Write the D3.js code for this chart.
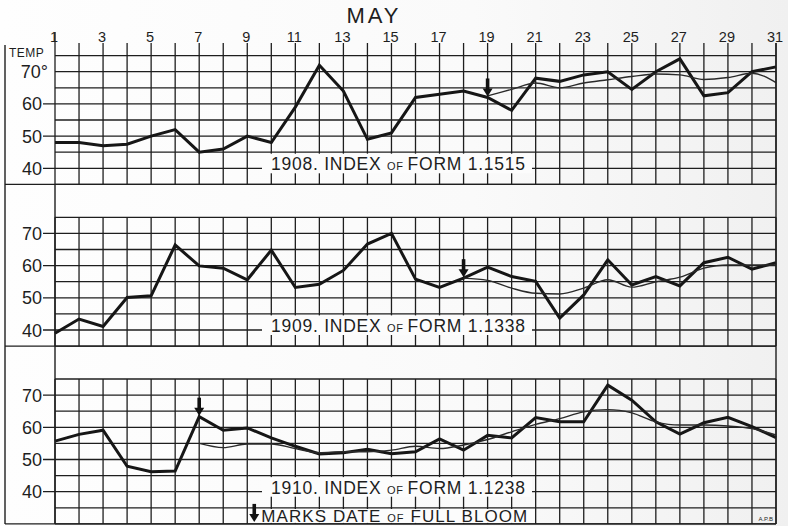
<!DOCTYPE html>
<html>
<head>
<meta charset="utf-8">
<script src="https://cdn.jsdelivr.net/npm/d3@7"></script>
<style>
  html, body { margin: 0; padding: 0; background: #fcfcfc; }
  svg text { font-family: "Liberation Sans", "DejaVu Sans", sans-serif; fill: #1e1e1e; }
</style>
</head>
<body>
<div id="chart"></div>
<script>
"use strict";

// ---- data ----
var dayTicks = [1, 3, 5, 7, 9, 11, 13, 15, 17, 19, 21, 23, 25, 27, 29, 31];
var tempTicks = [70, 60, 50, 40];
var years = ["1908", "1909", "1910"];
var formIndex = ["1.1515", "1.1338", "1.1238"];
var bloomDay = [19, 18, 7];

// daily mean temperature, May 1 - 31
var temps1908 = [48, 48, 47, 47.5, 50, 52, 45, 46, 50, 48, 59, 72, 64, 49, 51, 62,
  63, 64, 62, 58, 68, 67, 69, 70, 64.5, 70, 74, 62.5, 63.5, 70, 71.5];
var temps1909 = [39, 43.4, 41.1, 50.1, 50.6, 66.4, 59.9, 59.2, 55.6, 64.8, 53.2, 54.2,
  58.5, 66.7, 70, 55.8, 53.2, 56.1, 59.5, 56.6, 55.1, 43.7, 50.9, 61.8, 54, 56.6,
  53.7, 60.9, 62.6, 58.9, 60.9];
var temps1910 = [55.7, 57.8, 59.1, 47.9, 46.2, 46.4, 63.3, 59.1, 59.8, 56.7, 54.1,
  51.7, 52.1, 53.2, 51.8, 52.4, 56.4, 52.9, 57.5, 56.7, 63, 61.7, 61.7, 73.1, 68.4,
  61.7, 57.9, 61.4, 63.1, 60.2, 56.8];

// smoothed curve, from the bloom date to May 31
var smooth1908 = [62.5, 64.5, 66.5, 65, 66.5, 67.5, 68.5, 69.3, 69, 67.6, 68.2, 69.5, 66.6];
var smooth1909 = [56.1, 55.4, 53, 51.4, 51.2, 53, 55.6, 53.3, 55, 56.4, 59.2, 60.2, 60.2, 60.2];
var smooth1910 = [55, 53.7, 54.8, 54.8, 53.4, 52.1, 52.4, 52.4, 52.9, 54.1, 53.4, 54.5,
  56.2, 58.6, 60.9, 62.7, 64.8, 65.5, 64.5, 61.7, 60.7, 60.7, 60.4, 59.6, 57.6];

var temps = [temps1908, temps1909, temps1910];
var smooth = [smooth1908, smooth1909, smooth1910];

// ---- layout ----
var w = 788, h = 526;
var left = 55, right = 776, frameLeft = 5;
var y70 = [71.7, 233.4, 395.1];     // pixel row of the 70 degree line in each panel
var degPx = 3.22;
var ink = "#1e1e1e";

var svg = d3.select("#chart").append("svg").attr("width", w).attr("height", h);

var grad = svg.append("defs").append("linearGradient").attr("id", "paper");
grad.append("stop").attr("offset", "0%").attr("stop-color", "#fefefe");
grad.append("stop").attr("offset", "60%").attr("stop-color", "#fafafa");
grad.append("stop").attr("offset", "100%").attr("stop-color", "#f0f0f0");
svg.append("rect").attr("width", w).attr("height", h).attr("fill", "url(#paper)");

var x = d3.scaleLinear().domain([1, 31]).range([left, right]);
var days = d3.range(1, 32);

/**
 * Small down arrow, tip at (ax, tip).
 */
var drawArrow = function (g, ax, tip) {
  g.append("line")
    .attr("x1", ax).attr("x2", ax)
    .attr("y1", tip - 18).attr("y2", tip - 7)
    .attr("stroke", "#111").attr("stroke-width", 3.6);
  g.append("path")
    .attr("d", "M" + (ax - 5) + "," + (tip - 8) + "L" + (ax + 5) + "," + (tip - 8) + "L" + ax + "," + tip + "Z")
    .attr("fill", "#111");
};

/**
 * Draw one year's panel.
 * @param p - panel index (0, 1, 2)
 */
var drawPanel = function (p) {
  var y = d3.scaleLinear().domain([40, 70]).range([y70[p] + 30 * degPx, y70[p]]);
  var low = p === 2 ? 30 : 35;
  var g = svg.append("g").attr("class", "panel" + p);
  var grid = g.append("g").attr("stroke", ink).attr("stroke-width", 1.3);

  // horizontal rules every 5 degrees
  grid.selectAll("line.h")
    .data(d3.range(low, 80, 5))
    .enter().append("line")
    .attr("class", "h")
    .attr("x1", function (d) { return d % 10 === 0 && d >= 40 && d <= 70 && !(p === 0 && d === 70) ? 43 : left; })
    .attr("x2", right)
    .attr("y1", function (d) { return y(d); })
    .attr("y2", function (d) { return y(d); });

  // vertical rules for every day
  grid.selectAll("line.v")
    .data(days)
    .enter().append("line")
    .attr("class", "v")
    .attr("x1", function (d) { return x(d); })
    .attr("x2", function (d) { return x(d); })
    .attr("y1", function (d) { return p === 0 ? (d === 1 ? 32 : 43) : y(75); })
    .attr("y2", y(low));

  // temperature labels
  g.selectAll("text.t")
    .data(tempTicks)
    .enter().append("text")
    .attr("class", "t")
    .attr("x", 42)
    .attr("y", function (d) { return y(d) + 6.5; })
    .attr("text-anchor", "end")
    .attr("font-size", 18)
    .text(function (d) { return d; });
  if (p === 0) {
    g.select("text.t").text("70°").attr("x", 48);
  }

  // "index of form" box
  var by = y(45) + 1.5;
  g.append("rect")
    .attr("x", 262).attr("y", by)
    .attr("width", 270).attr("height", y(40) + 5 - by)
    .attr("fill", "#fcfcfc");
  var lab = g.append("text")
    .attr("x", 271).attr("y", y(40) + 2)
    .attr("font-size", 17.5)
    .attr("textLength", 254)
    .attr("lengthAdjust", "spacing");
  lab.append("tspan").text(years[p] + ". INDEX ");
  lab.append("tspan").attr("font-size", 11).text("OF ");
  lab.append("tspan").text("FORM  " + formIndex[p]);

  // daily temperatures
  var line = d3.line()
    .x(function (d, i) { return x(i + 1); })
    .y(function (d) { return y(d); });
  g.append("path")
    .attr("d", line(temps[p]))
    .attr("fill", "none")
    .attr("stroke", "#161616")
    .attr("stroke-width", 3)
    .attr("stroke-linejoin", "miter");

  // smoothed curve from full bloom on
  var smoothLine = d3.line()
    .curve(d3.curveMonotoneX)
    .x(function (d, i) { return x(bloomDay[p] + i); })
    .y(function (d) { return y(d); });
  g.append("path")
    .attr("d", smoothLine(smooth[p]))
    .attr("fill", "none")
    .attr("stroke", "#2a2a2a")
    .attr("stroke-width", 1.4);

  // full bloom arrow
  drawArrow(g, x(bloomDay[p]), y(temps[p][bloomDay[p] - 1]) - 1);

  return y;
};

var scales = [0, 1, 2].map(drawPanel);

// frame and separators
var frame = svg.append("g").attr("stroke", ink).attr("stroke-width", 1.4);
frame.append("line").attr("x1", frameLeft).attr("x2", frameLeft).attr("y1", 45).attr("y2", scales[2](30));
frame.append("line").attr("x1", left).attr("x2", left).attr("y1", scales[0](35)).attr("y2", scales[2](30));
frame.append("line").attr("x1", right).attr("x2", right).attr("y1", 43).attr("y2", scales[2](30));
[scales[0](35), scales[1](35), scales[2](30)].forEach(function (yy) {
  frame.append("line").attr("x1", frameLeft).attr("x2", right).attr("y1", yy).attr("y2", yy);
});

// legend box in the last panel
var y3 = scales[2];
svg.append("rect")
  .attr("x", x(9) + 1).attr("y", y3(35) + 1.2)
  .attr("width", x(21) - x(9) - 2).attr("height", y3(30) - y3(35) - 2.2)
  .attr("fill", "#fcfcfc");
drawArrow(svg, x(9) + 7, y3(30) - 2);
var legend = svg.append("text")
  .attr("x", x(9) + 14).attr("y", y3(30) - 1.5)
  .attr("font-size", 17)
  .attr("textLength", 266)
  .attr("lengthAdjust", "spacing");
legend.append("tspan").text("MARKS DATE ");
legend.append("tspan").attr("font-size", 11).text("OF");
legend.append("tspan").text(" FULL  BLOOM");

// day numbers, month, axis title
svg.selectAll("text.day")
  .data(dayTicks)
  .enter().append("text")
  .attr("class", "day")
  .attr("x", function (d) { return x(d) - 1; })
  .attr("y", 42)
  .attr("text-anchor", "middle")
  .attr("font-size", 14.5)
  .text(function (d) { return d; });

svg.append("text")
  .attr("x", 374).attr("y", 23)
  .attr("text-anchor", "middle")
  .attr("font-size", 22)
  .attr("letter-spacing", 3)
  .text("MAY");

svg.append("text")
  .attr("x", 9).attr("y", 57)
  .attr("font-size", 12)
  .attr("letter-spacing", 0.5)
  .text("TEMP");

svg.append("text")
  .attr("x", 773).attr("y", 521)
  .attr("text-anchor", "end")
  .attr("font-size", 6)
  .text("A.P.B");
</script>
</body>
</html>
